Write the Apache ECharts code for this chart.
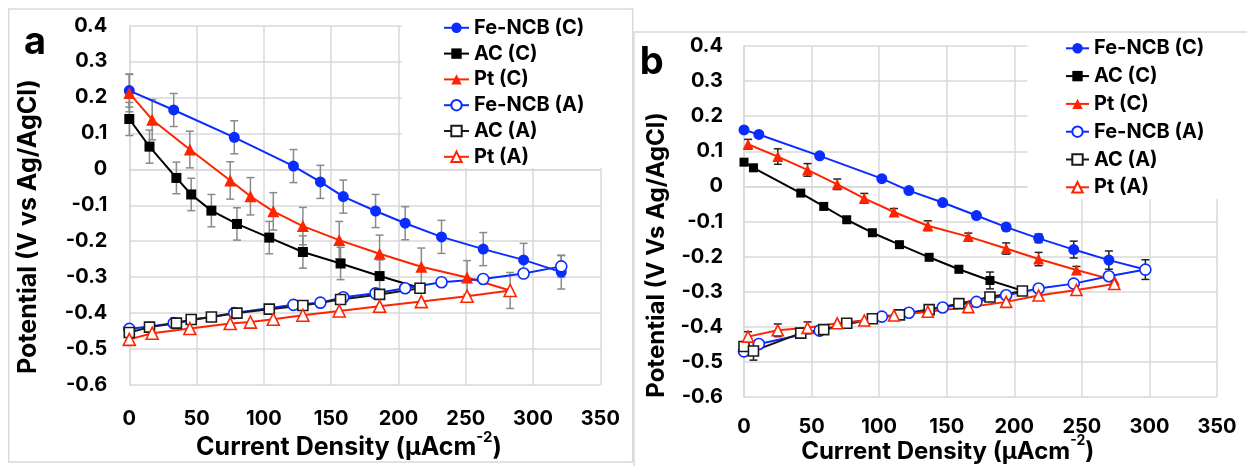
<!DOCTYPE html>
<html><head><meta charset="utf-8">
<script src="https://cdn.jsdelivr.net/npm/echarts@6/dist/echarts.min.js"></script>
<style>html,body{margin:0;padding:0;background:#fff}#c{width:1247px;height:466px}</style>
</head><body><div id="c"></div>
<script>
// ---------- tick labels ----------
const xTickLabels = ['0','50','100','150','200','250','300','350'];
const yTickLabels = ['-0.6','-0.5','-0.4','-0.3','-0.2','-0.1','0','0.1','0.2','0.3','0.4'];
const seriesNames = ['Fe-NCB (C)','AC (C)','Pt (C)','Fe-NCB (A)','AC (A)','Pt (A)'];

// ---------- panel a ----------
const aFeX = [0, 33, 78, 122, 142, 159, 183, 205, 232, 263, 293, 321];
const aFeC = [0.219, 0.165, 0.089, 0.009, -0.035, -0.076, -0.116, -0.150, -0.188, -0.222, -0.252, -0.286];
const aFeA = [-0.444, -0.428, -0.400, -0.377, -0.371, -0.356, -0.345, -0.331, -0.314, -0.305, -0.290, -0.270];
const aFeCErr = [0.046, 0.046, 0.046, 0.046, 0.046, 0.046, 0.046, 0.046, 0.046, 0.046, 0.046, 0.047];
const aFeAErr = [0, 0, 0, 0, 0, 0, 0, 0, 0, 0, 0, 0.030];

const aAcX = [0, 15, 35, 46, 61, 80, 104, 129, 157, 186, 216];
const aAcC = [0.140, 0.063, -0.024, -0.070, -0.115, -0.152, -0.190, -0.230, -0.262, -0.297, -0.330];
const aAcA = [-0.454, -0.439, -0.428, -0.418, -0.411, -0.400, -0.389, -0.379, -0.362, -0.348, -0.331];
const aAcCErr = [0.046, 0.046, 0.044, 0.045, 0.045, 0.045, 0.045, 0.045, 0.045, 0.045, 0];

const aPtX = [0, 17, 45, 75, 90, 107, 129, 156, 186, 217, 251, 283];
const aPtC = [0.212, 0.138, 0.055, -0.031, -0.075, -0.117, -0.158, -0.197, -0.235, -0.271, -0.301, -0.337];
const aPtA = [-0.473, -0.456, -0.443, -0.429, -0.425, -0.417, -0.406, -0.394, -0.381, -0.368, -0.353, -0.337];
const aPtCErr = [0.052, 0.056, 0.051, 0.052, 0.052, 0.052, 0.052, 0.052, 0.052, 0.052, 0.047, 0.050];

// ---------- panel b ----------
const bFeX = [0, 11, 56, 102, 122, 147, 172, 194, 218, 244, 270, 297];
const bFeC = [0.161, 0.148, 0.087, 0.022, -0.012, -0.046, -0.083, -0.116, -0.148, -0.180, -0.210, -0.237];
const bFeA = [-0.470, -0.449, -0.411, -0.371, -0.360, -0.345, -0.329, -0.310, -0.291, -0.277, -0.256, -0.237];
const bFeCErr = [0, 0, 0, 0, 0, 0, 0, 0.010, 0.012, 0.024, 0.026, 0];
const bFeAErr = [0, 0, 0, 0, 0, 0, 0, 0, 0, 0, 0, 0.028];

const bAcX = [0, 7, 42, 59, 76, 95, 115, 137, 159, 182, 206];
const bAcC = [0.069, 0.053, -0.019, -0.057, -0.095, -0.132, -0.166, -0.202, -0.236, -0.268, -0.297];
const bAcA = [-0.456, -0.469, -0.418, -0.408, -0.390, -0.377, -0.366, -0.351, -0.334, -0.315, -0.298];
const bAcCErr = [0, 0, 0, 0, 0, 0, 0, 0, 0.010, 0.024, 0];
const bAcAErr = [0, 0.026, 0, 0, 0, 0, 0, 0, 0, 0, 0];

const bPtX = [3, 25, 47, 69, 89, 111, 136, 166, 194, 218, 246, 274];
const bPtC = [0.120, 0.085, 0.047, 0.006, -0.034, -0.073, -0.112, -0.143, -0.177, -0.207, -0.238, -0.267];
const bPtA = [-0.428, -0.410, -0.403, -0.390, -0.382, -0.368, -0.357, -0.344, -0.329, -0.311, -0.295, -0.278];
const bPtCErr = [0.014, 0.022, 0.018, 0.015, 0.014, 0.010, 0.014, 0.010, 0.016, 0.019, 0.010, 0];
const bPtAErr = [0.014, 0.018, 0.017, 0, 0, 0, 0, 0, 0, 0, 0, 0];

// ---------- styling ----------
const FONT = 'Inter';
const BLUE = '#0a2cff', BLACK = '#000000', RED = '#ff2400';
const GRID_C = '#d9d9d9';

function pairs(xs, ys) { return xs.map((x, i) => [x, ys[i]]); }

function lineS(name, gi, xs, ys, kind, filled, color, size) {
  const sym = kind;
  return {
    type: 'line', name: name, xAxisIndex: gi, yAxisIndex: gi,
    data: pairs(xs, ys), symbol: sym, symbolSize: size,
    lineStyle: { color: color, width: 2 },
    itemStyle: filled ? { color: color, borderColor: color, borderWidth: 0 }
                      : { color: '#ffffff', borderColor: color, borderWidth: 1.6 },
    z: 3, silent: true, animation: false, emphasis: { disabled: true }
  };
}

function errS(gi, xs, ys, es, color) {
  return {
    type: 'custom', name: 'err', xAxisIndex: gi, yAxisIndex: gi, z: 2, silent: true,
    animation: false,
    data: xs.map((x, i) => [x, ys[i], es[i]]),
    renderItem: function (params, api) {
      const x = api.value(0), y = api.value(1), e = api.value(2);
      if (!e) return null;
      const p1 = api.coord([x, y + e]), p2 = api.coord([x, y - e]);
      const w = 4, st = { stroke: color, lineWidth: 1.5 };
      return { type: 'group', children: [
        { type: 'line', shape: { x1: p1[0], y1: p1[1], x2: p2[0], y2: p2[1] }, style: st },
        { type: 'line', shape: { x1: p1[0] - w, y1: p1[1], x2: p1[0] + w, y2: p1[1] }, style: st },
        { type: 'line', shape: { x1: p2[0] - w, y1: p2[1], x2: p2[0] + w, y2: p2[1] }, style: st }
      ]};
    }
  };
}

function xAx(gi, margin) {
  return {
    type: 'value', gridIndex: gi, min: 0, max: 350, interval: 50,
    axisLine: { show: true, lineStyle: { color: GRID_C, width: 1.5 } },
    axisTick: { show: false },
    splitLine: { show: true, lineStyle: { color: GRID_C, width: 1.5 } },
    axisLabel: { fontFamily: FONT, fontWeight: 'bold', fontSize: 20, color: '#000', margin: margin,
      formatter: v => xTickLabels[Math.round(v / 50)] }
  };
}
function yAx(gi, margin) {
  return {
    type: 'value', gridIndex: gi, min: -0.6, max: 0.4, interval: 0.1,
    axisLine: { show: true, lineStyle: { color: GRID_C, width: 1.5 } },
    axisTick: { show: false },
    splitLine: { show: true, lineStyle: { color: GRID_C, width: 1.5 } },
    axisLabel: { fontFamily: FONT, fontWeight: 'bold', fontSize: 20, color: '#000', margin: margin,
      formatter: v => yTickLabels[Math.round((v + 0.6) * 10)] }
  };
}

function legendOpt(left, top, gap, iw) {
  return {
    orient: 'vertical', left: left, top: top, padding: 0, itemGap: gap,
    itemWidth: iw, itemHeight: 13, selectedMode: false, data: seriesNames,
    textStyle: { fontFamily: FONT, fontWeight: 'bold', fontSize: 20, color: '#000', lineHeight: 20 }
  };
}

function titleText(x, y, size, rot, main, sup) {
  const el = {
    type: 'text', x: x, y: y, rotation: rot, z: 5, silent: true,
    style: { align: 'center', verticalAlign: 'middle', fill: '#000' }
  };
  if (sup) {
    el.style.text = '{m|' + main + '}{s|' + sup + '}{m|)}';
    el.style.rich = {
      m: { fontFamily: FONT, fontWeight: 'bold', fontSize: size, lineHeight: 36, fill: '#000' },
      s: { fontFamily: FONT, fontWeight: 'bold', fontSize: Math.round(size * 0.6), lineHeight: 14, verticalAlign: 'top', fill: '#000' }
    };
  } else {
    el.style.text = main;
    el.style.font = 'bold ' + size + 'px ' + FONT;
  }
  return el;
}

const series = [
  errS(0, aFeX, aFeC, aFeCErr, '#8a8a8a'),
  errS(0, aAcX, aAcC, aAcCErr, '#8a8a8a'),
  errS(0, aPtX, aPtC, aPtCErr, '#8a8a8a'),
  errS(0, aFeX, aFeA, aFeAErr, '#8a8a8a'),
  lineS('Fe-NCB (C)', 0, aFeX, aFeC, 'circle', true, BLUE, 11),
  lineS('AC (C)', 0, aAcX, aAcC, 'rect', true, BLACK, 10),
  lineS('Pt (C)', 0, aPtX, aPtC, 'triangle', true, RED, 12),
  lineS('Fe-NCB (A)', 0, aFeX, aFeA, 'circle', false, BLUE, 11),
  lineS('AC (A)', 0, aAcX, aAcA, 'rect', false, '#1a1a1a', 10),
  lineS('Pt (A)', 0, aPtX, aPtA, 'triangle', false, RED, 12),

  errS(1, bFeX, bFeC, bFeCErr, '#222'),
  errS(1, bAcX, bAcC, bAcCErr, '#222'),
  errS(1, bPtX, bPtC, bPtCErr, '#222'),
  errS(1, bFeX, bFeA, bFeAErr, '#222'),
  errS(1, bAcX, bAcA, bAcAErr, '#222'),
  errS(1, bPtX, bPtA, bPtAErr, '#222'),
  lineS('Fe-NCB (C)', 1, bFeX, bFeC, 'circle', true, BLUE, 11),
  lineS('AC (C)', 1, bAcX, bAcC, 'rect', true, BLACK, 9),
  lineS('Pt (C)', 1, bPtX, bPtC, 'triangle', true, RED, 11),
  lineS('Fe-NCB (A)', 1, bFeX, bFeA, 'circle', false, BLUE, 11),
  lineS('AC (A)', 1, bAcX, bAcA, 'rect', false, '#1a1a1a', 10),
  lineS('Pt (A)', 1, bPtX, bPtA, 'triangle', false, RED, 11)
];

const chart = echarts.init(document.getElementById('c'), null, { renderer: 'canvas' });
chart.setOption({
  animation: false,
  grid: [
    { left: 129.3, top: 25.5, width: 471, height: 359.5 },
    { left: 744, top: 46, width: 473, height: 351 }
  ],
  xAxis: [xAx(0, 24), xAx(1, 20)],
  yAxis: [yAx(0, 22), yAx(1, 21)],
  legend: [legendOpt(443, 17.8, 5.8, 25), legendOpt(1065, 38.3, 7.8, 23)],
  graphic: [
    { type: 'rect', z: -10, silent: true, shape: { x: 8.7, y: 9, width: 624, height: 453 },
      style: { fill: '#fff', stroke: '#d9d9d9', lineWidth: 1.5 } },
    { type: 'rect', z: -9, silent: true, shape: { x: 634, y: 32, width: 640, height: 460 },
      style: { fill: '#fff', stroke: '#d9d9d9', lineWidth: 1.5 } },
    { type: 'rect', z: 1, silent: true, shape: { x: 402, y: 10.5, width: 229.5, height: 157.5 },
      style: { fill: '#fff' } },
    { type: 'rect', z: 1, silent: true, shape: { x: 1027.5, y: 33, width: 225, height: 166 },
      style: { fill: '#fff' } },
    titleText(349, 447.5, 25, 0, 'Current Density (μAcm', '-2'),
    titleText(947.7, 451.7, 24, 0, 'Current Density (μAcm', '-2'),
    titleText(28.4, 226.5, 25, Math.PI / 2, 'Potential (V vs Ag/AgCl)'),
    titleText(656.6, 255, 24, Math.PI / 2, 'Potential (V Vs Ag/AgCl)'),
    titleText(35, 42.5, 38, 0, 'a'),
    titleText(651.7, 62.2, 38, 0, 'b')
  ],
  series: series
});
</script></body></html>
